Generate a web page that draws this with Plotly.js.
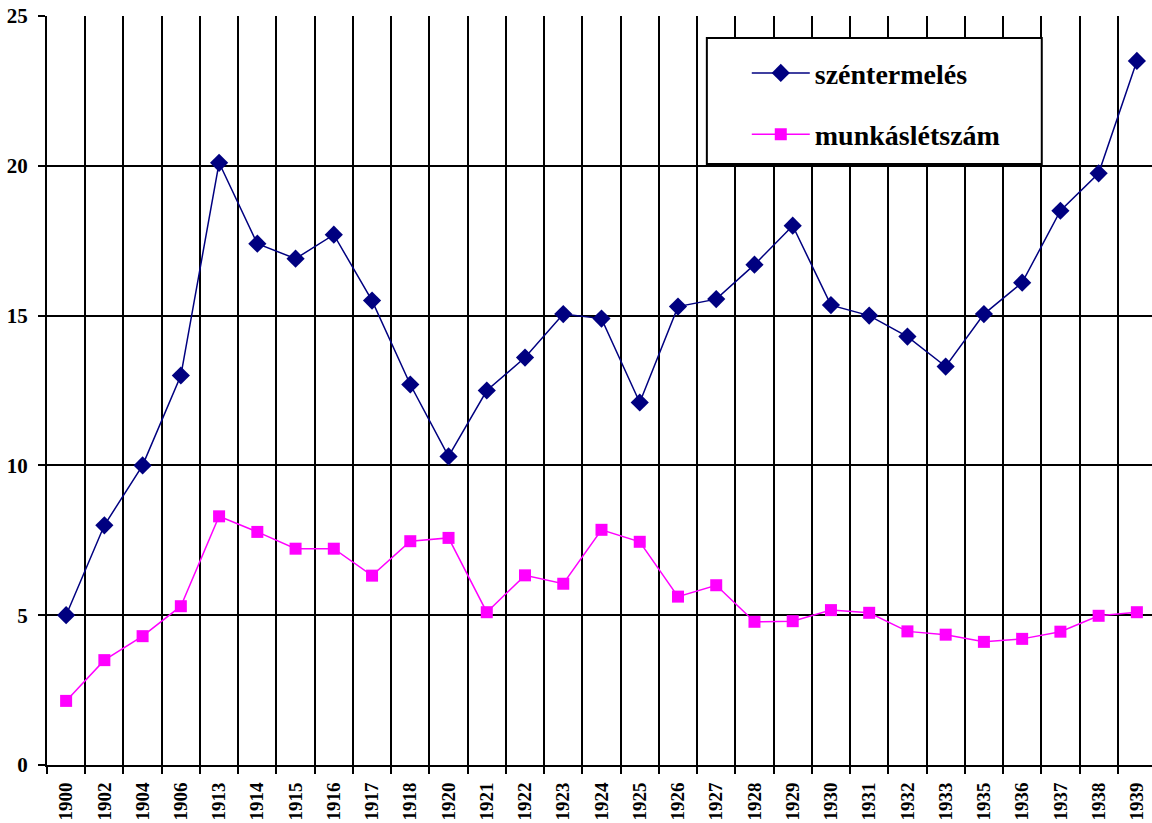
<!DOCTYPE html>
<html>
<head>
<meta charset="utf-8">
<script src="https://cdn.plot.ly/plotly-3.0.1.min.js"></script>
<style>
html,body{margin:0;padding:0;overflow:hidden;background:#fff;}
#chart{width:1160px;height:823px;}
</style>
</head>
<body>
<div id="chart"></div>
<script>
const years = ["1900","1902","1904","1906","1913","1914","1915","1916","1917","1918","1920","1921","1922","1923","1924","1925","1926","1927","1928","1929","1930","1931","1932","1933","1935","1936","1937","1938","1939"];
const szentermeles = [5.0,8.0,10.0,13.0,20.1,17.4,16.9,17.7,15.5,12.7,10.3,12.5,13.6,15.05,14.9,12.1,15.3,15.55,16.7,18.0,15.35,15.0,14.3,13.3,15.05,16.1,18.5,19.75,23.5];
const munkaslet = [2.14,3.5,4.3,5.3,8.3,7.78,7.22,7.22,6.32,7.47,7.58,5.1,6.33,6.05,7.85,7.45,5.62,6.0,4.78,4.8,5.17,5.08,4.46,4.35,4.11,4.21,4.45,4.98,5.1];
const seriesNames = ["széntermelés","munkáslétszám"];

const font = "'Liberation Serif', 'Times New Roman', serif";

const traces = [
  {x: years, y: szentermeles, name: seriesNames[0], type: "scatter", mode: "lines+markers",
   legendgroup: "a",
   line: {color: "#000080", width: 1.5},
   marker: {symbol: "diamond", size: 14, color: "#000080"}},
  {x: years, y: munkaslet, name: seriesNames[1], type: "scatter", mode: "lines+markers",
   legendgroup: "b",
   line: {color: "#FF00FF", width: 1.5},
   marker: {symbol: "square", size: 12, color: "#FF00FF"}}
];

const layout = {
  width: 1160, height: 823,
  margin: {l: 47, r: 4, t: 16, b: 58},
  paper_bgcolor: "#fff", plot_bgcolor: "#fff",
  font: {family: font, color: "#000"},
  showlegend: true,
  legend: {
    x: 0.631, y: 0.957, xanchor: "left", yanchor: "top",
    bgcolor: "rgba(0,0,0,0)", borderwidth: 0,
    font: {family: font, size: 28, color: "#000", weight: "bold"},
    itemwidth: 58, traceorder: "grouped", tracegroupgap: 22
  },
  shapes: [{type: "rect", xref: "paper", yref: "paper", x0: 0.595, x1: 0.897, y0: 0.8024, y1: 0.9706,
            line: {color: "#000", width: 2}, fillcolor: "#fff", layer: "above"}],
  xaxis: {
    type: "category", tickson: "boundaries",
    showgrid: true, gridcolor: "#000", gridwidth: 2,
    ticks: "outside", ticklen: 7, tickwidth: 2, tickcolor: "#000",
    tickangle: -90, ticklabelstandoff: 8,
    tickfont: {family: font, size: 19, color: "#000", weight: "bold"},
    showline: true, linecolor: "#000", linewidth: 2,
    range: [-0.5, 28.5], fixedrange: true
  },
  yaxis: {
    range: [0, 25], tickvals: [0,5,10,15,20,25],
    showgrid: true, gridcolor: "#000", gridwidth: 2,
    ticks: "outside", ticklen: 7, tickwidth: 2, tickcolor: "#000",
    ticklabelstandoff: 6,
    tickfont: {family: font, size: 21, color: "#000", weight: "bold"},
    showline: true, linecolor: "#000", linewidth: 2,
    zeroline: false, fixedrange: true
  }
};

Plotly.newPlot("chart", traces, layout, {displayModeBar: false, staticPlot: true});
</script>
</body>
</html>
